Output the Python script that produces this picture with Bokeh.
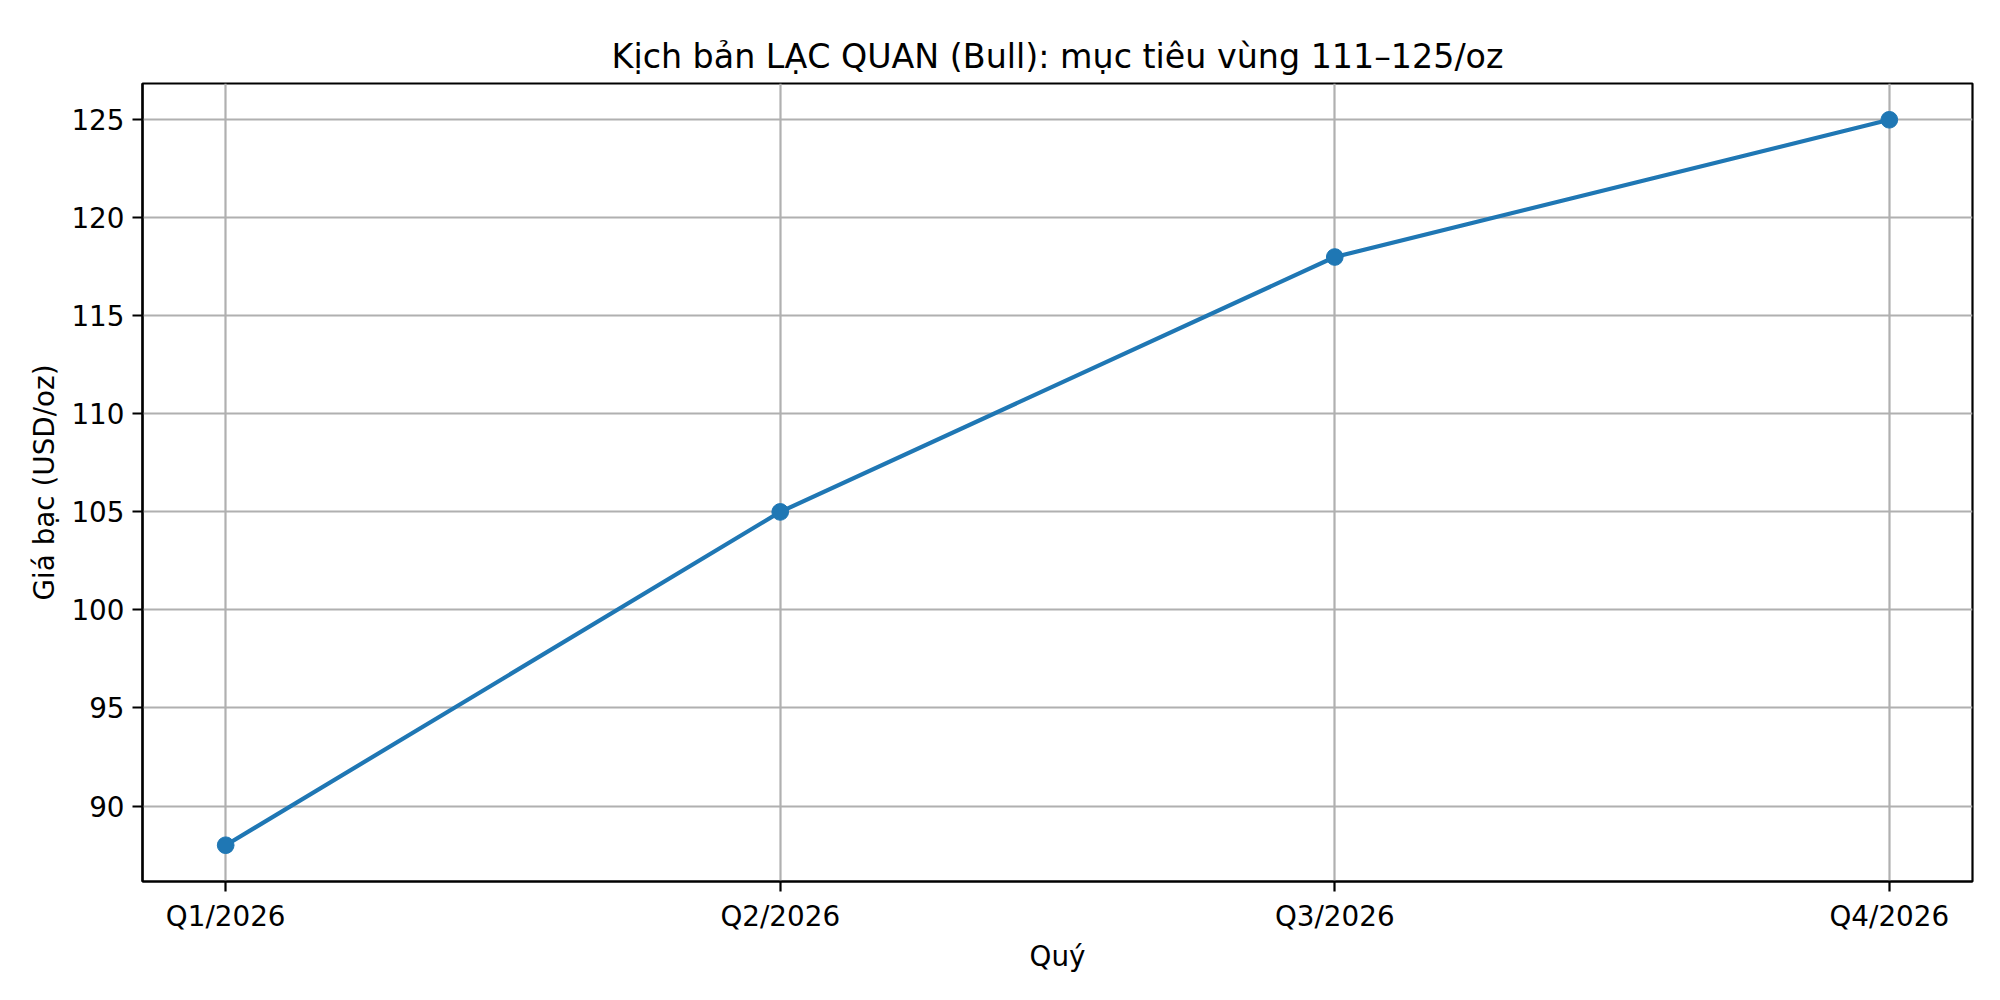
from bokeh.plotting import figure
from bokeh.models import Range1d, FixedTicker
from bokeh.embed import file_html
from bokeh.resources import INLINE

# Data
quarters = ["Q1/2026", "Q2/2026", "Q3/2026", "Q4/2026"]
prices = [88, 105, 118, 125]
y_ticks = [90, 95, 100, 105, 110, 115, 120, 125]

title_text = "Kịch bản LẠC QUAN (Bull): mục tiêu vùng 111–125/oz"
x_label = "Quý"
y_label = "Giá bạc (USD/oz)"

FONT = "DejaVu Sans"
x_idx = list(range(len(quarters)))

# matplotlib-like 5% margins
xpad = 0.05 * (x_idx[-1] - x_idx[0])
ypad = 0.05 * (max(prices) - min(prices))

p = figure(
    width=1984, height=984,
    output_backend="svg", toolbar_location=None,
    x_range=Range1d(x_idx[0] - xpad, x_idx[-1] + xpad),
    y_range=Range1d(min(prices) - ypad, max(prices) + ypad),
    min_border_left=142, min_border_right=12,
    min_border_top=83, min_border_bottom=103,
    title=title_text,
)

p.background_fill_color = "white"
p.border_fill_color = "white"
p.outline_line_color = "black"
p.outline_line_width = 2.2
p.outline_line_alpha = 1.0

p.title.text_font = FONT
p.title.text_font_size = "33.3px"
p.title.text_font_style = "normal"
p.title.align = "center"
p.title.text_color = "black"
p.title.standoff = 16

# grid
for g in (p.xgrid, p.ygrid):
    g.grid_line_color = "#b0b0b0"
    g.grid_line_width = 2.2
    g.grid_line_alpha = 1.0

p.xaxis.ticker = FixedTicker(ticks=x_idx)
p.xaxis.major_label_overrides = {i: q for i, q in zip(x_idx, quarters)}
p.yaxis.ticker = FixedTicker(ticks=y_ticks)

for ax in (p.xaxis, p.yaxis):
    ax.axis_line_color = "black"
    ax.axis_line_width = 2.2
    ax.major_tick_line_color = "black"
    ax.major_tick_line_width = 2.2
    ax.major_tick_out = 10
    ax.major_tick_in = 0
    ax.minor_tick_line_color = None
    ax.major_label_text_font = FONT
    ax.major_label_text_font_size = "27.8px"
    ax.major_label_text_color = "black"
    ax.major_label_standoff = 8
    ax.axis_label_text_font = FONT
    ax.axis_label_text_font_size = "27.8px"
    ax.axis_label_text_font_style = "normal"
    ax.axis_label_text_color = "black"

p.xaxis.axis_label_standoff = 4
p.yaxis.axis_label_standoff = 7
p.xaxis.axis_label = x_label
p.yaxis.axis_label = y_label

p.line(x_idx, prices, line_color="#1f77b4", line_width=4.2)
p.scatter(x_idx, prices, size=16.7, fill_color="#1f77b4", line_color="#1f77b4")

open("out.html", "w").write(file_html(p, INLINE))
